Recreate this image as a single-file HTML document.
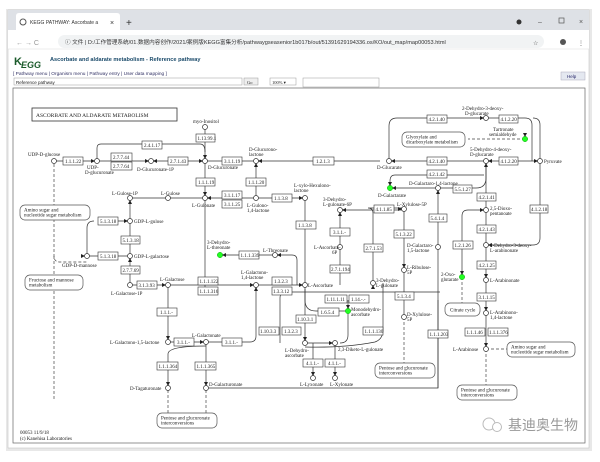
<!DOCTYPE html>
<html><head><meta charset="utf-8"><style>
body{margin:0;width:600px;height:457px;background:#fff;overflow:hidden;font-family:"Liberation Sans","Noto Sans CJK SC",sans-serif}
svg text{font-family:"Liberation Serif",serif;font-size:5px;fill:#222}
.b rect{fill:#fff;stroke:#333;stroke-width:.6}
.l{stroke:#333;stroke-width:.7;fill:none}
.d{stroke:#444;stroke-width:.7;fill:none;stroke-dasharray:3 2}
.c{fill:#fff;stroke:#333;stroke-width:.7}
.g{fill:#2f2;stroke:#1a1;stroke-width:.5}
.r{fill:#fff;stroke:#555;stroke-width:.7}
</style></head><body>
<svg width="600" height="457" viewBox="0 0 600 457" xmlns="http://www.w3.org/2000/svg">
<rect x="6" y="9" width="586" height="442" fill="#e8e8e8"/>
<rect x="8" y="10" width="581" height="438" fill="#fff" stroke="#bbb" stroke-width=".5"/>
<rect x="8" y="10" width="581" height="20" fill="#dee1e6"/>
<path d="M16 30 V16 q0-3 3-3 H117 q3 0 3 3 V30 Z" fill="#fff"/>
<circle cx="23" cy="22" r="3" fill="none" stroke="#555" stroke-width="1"/>
<text x="30" y="24" style="font-family:'Liberation Sans',sans-serif;font-size:5px;fill:#333">KEGG PATHWAY: Ascorbate a</text>
<text x="110" y="25" style="font-family:'Liberation Sans',sans-serif;font-size:7px;fill:#333">×</text>
<text x="126" y="26" style="font-family:'Liberation Sans',sans-serif;font-size:10px;fill:#333">+</text>
<circle cx="519" cy="22" r="2.5" fill="#333"/>
<text x="538" y="24" style="font-family:'Liberation Sans',sans-serif;font-size:7px;fill:#555">–</text>
<rect x="559" y="18" width="5" height="5" fill="none" stroke="#555" stroke-width=".7"/>
<text x="579" y="24" style="font-family:'Liberation Sans',sans-serif;font-size:7px;fill:#555">×</text>
<rect x="8" y="30" width="581" height="19" fill="#fff"/>
<text x="16" y="45" style="font-family:'Liberation Sans',sans-serif;font-size:7px;fill:#999">← → C</text>
<rect x="58" y="35" width="486" height="13" rx="6.5" fill="#f1f3f4"/>
<text x="65" y="44" style="font-family:'Liberation Sans','Noto Sans CJK SC',sans-serif;font-size:5.6px;fill:#333">ⓘ 文件 | D:/工作管理系统/01.数据内容创作/2021/案例版KEGG富集分析/pathwaygseasenior1b017b/out/51391629194336.os/KO/out_map/map00053.html</text>
<text x="533" y="45" style="font-size:6px;fill:#555">☆</text>
<circle cx="563" cy="42" r="3" fill="#555"/><text x="578" y="45" style="font-size:6px;fill:#555">⋮</text>
<line x1="8" y1="49" x2="589" y2="49" stroke="#ddd" stroke-width=".5"/>
<text x="14" y="65" style="font-family:'Liberation Sans',sans-serif;font-size:11px;font-weight:bold;fill:#1a5a2a">K</text>
<text x="21" y="68" style="font-family:'Liberation Sans',sans-serif;font-size:9px;font-weight:bold;fill:#1a5a2a;font-style:italic">EGG</text>
<text x="50" y="61" style="font-family:'Liberation Sans',sans-serif;font-size:5.6px;font-weight:bold;fill:#1a4a6a">Ascorbate and aldarate metabolism - Reference pathway</text>
<rect x="561" y="72" width="24" height="8" fill="#e4e8f0" stroke="#aab" stroke-width=".5"/>
<text x="567" y="78" style="font-family:'Liberation Sans',sans-serif;font-size:4.5px;fill:#226">Help</text>
<text x="13" y="75" style="font-family:'Liberation Sans',sans-serif;font-size:4.8px;fill:#336">[ Pathway menu | Organism menu | Pathway entry | User data mapping ]</text>
<rect x="14" y="78" width="228" height="7" fill="#fff" stroke="#999" stroke-width=".5"/>
<text x="16" y="84" style="font-family:'Liberation Sans',sans-serif;font-size:4.5px">Reference pathway</text>
<rect x="244" y="78" width="14" height="7" fill="#eee" stroke="#999" stroke-width=".5"/><text x="247" y="84" style="font-size:4.5px">Go</text>
<rect x="270" y="78" width="26" height="7" fill="#fff" stroke="#999" stroke-width=".5"/><text x="272" y="84" style="font-size:4.5px">100% ▾</text>
<rect x="303" y="78" width="76" height="9" fill="#fff" stroke="#999" stroke-width=".5"/>
<rect x="13" y="88" width="572" height="355" fill="#fff" stroke="#666" stroke-width=".7"/>

<rect x="32" y="108" width="145" height="13" fill="#fff" stroke="#333" stroke-width=".8"/>
<text x="36" y="117" style="font-size:5.5px">ASCORBATE AND ALDARATE METABOLISM</text>

<g class="l">
<path d="M54 161 H380"/><path d="M205 127 V290"/><path d="M256 161 V198"/>
<path d="M97 161 V148 q0-4 4-4 H200 q5 0 5 8"/>
<path d="M130 198 H305"/><path d="M130 198 V285"/><path d="M98 221 H130"/><path d="M87 256 H130"/><path d="M87 256 V228 q0-7 7-7"/>
<path d="M130 285 H168"/><path d="M168 285 H305"/><path d="M168 285 V342"/><path d="M168 342 H206 H250 q6 0 6-6 V285"/>
<path d="M206 342 V388"/><path d="M206 346 q-38 0-38 8 V388"/>
<path d="M206 388 H438 V300"/>
<path d="M305 198 V343"/><path d="M220 255 H275 H292 q5 0 5 5 V285"/>
<path d="M280 343 V298 q0-6 6-6 H440"/><path d="M305 343 H335"/><path d="M305 347 q40 1 70-5 q8-3 8-12 V283"/>
<path d="M305 289 V300 q0 11 11 11 H348"/><path d="M348 300 V311 V335 q0 8-8 8"/>
<path d="M340 210 V285"/><path d="M373 283 V213 q0-5-5-5 H404 M340 210 H404"/>
<path d="M404 209 V317"/><path d="M438 188 V388"/>
<path d="M313 343 V378 M335 343 V378"/>
<path d="M390 188 H438 H476 q10 0 10-10 V161"/><path d="M389 161 H540"/>
<path d="M389 161 V126 q0-8 8-8 H486 H525 q7 0 7 7 V161"/><path d="M540 161 V125 q0-7-7-7"/>
<path d="M395 175 q-5 0-5 6 V188"/><path d="M395 175 H484"/>
<path d="M486 161 V349"/><path d="M540 161 V238 q0 7-7 7 H486"/>
<path d="M486 210 H468 q-6 0-6 6 V277"/>
</g>
<g class="d">
<path d="M54 164 V256 q0 6 6 6 H87"/><path d="M54 256 V400"/><path d="M525 139 H468"/><path d="M462 277 V303"/>
<path d="M168 390 V413 M206 390 V413"/><path d="M404 317 V363"/><path d="M486 349 V385"/><path d="M486 349 H507"/>
</g>

<g class="c">
<circle cx="205" cy="127" r="2.5"/><circle cx="54" cy="161" r="2.5"/><circle cx="97" cy="161" r="2.5"/><circle cx="151" cy="161" r="2.5"/>
<circle cx="205" cy="161" r="2.5"/><circle cx="256" cy="161" r="2.5"/><circle cx="389" cy="161" r="2.5"/>
<circle cx="205" cy="198" r="2.5"/><circle cx="256" cy="198" r="2.5"/><circle cx="305" cy="198" r="2.5"/><circle cx="130" cy="198" r="2.5"/><circle cx="168" cy="198" r="2.5"/>
<circle cx="130" cy="221" r="2.5"/><circle cx="130" cy="256" r="2.5"/><circle cx="87" cy="256" r="2.5"/><circle cx="275" cy="255" r="2.5"/>
<circle cx="130" cy="285" r="2.5"/><circle cx="168" cy="285" r="2.5"/><circle cx="256" cy="285" r="2.5"/><circle cx="305" cy="285" r="2.5"/>
<circle cx="168" cy="342" r="2.5"/><circle cx="206" cy="342" r="2.5"/><circle cx="168" cy="388" r="2.5"/><circle cx="206" cy="388" r="2.5"/>
<circle cx="305" cy="343" r="2.5"/><circle cx="335" cy="343" r="2.5"/><circle cx="313" cy="378" r="2.5"/><circle cx="335" cy="378" r="2.5"/>
<circle cx="373" cy="283" r="2.5"/><circle cx="340" cy="247" r="2.5"/><circle cx="340" cy="210" r="2.5"/><circle cx="404" cy="209" r="2.5"/>
<circle cx="404" cy="270" r="2.5"/><circle cx="404" cy="317" r="2.5"/><circle cx="438" cy="247" r="2.5"/><circle cx="438" cy="188" r="2.5"/>
<circle cx="486" cy="118" r="2.5"/><circle cx="486" cy="161" r="2.5"/><circle cx="540" cy="161" r="2.5"/><circle cx="486" cy="210" r="2.5"/>
<circle cx="486" cy="245" r="2.5"/><circle cx="486" cy="280" r="2.5"/><circle cx="486" cy="313" r="2.5"/><circle cx="486" cy="349" r="2.5"/>
</g>
<g class="g"><circle cx="220" cy="255" r="2.7"/><circle cx="348" cy="311" r="2.7"/><circle cx="390" cy="188" r="2.7"/><circle cx="525" cy="139" r="2.7"/><circle cx="462" cy="277" r="2.7"/></g>

<g class="r">
<rect x="20" y="205" width="70" height="15" rx="5"/><rect x="25" y="275" width="58" height="15" rx="5"/>
<rect x="157" y="413" width="60" height="15" rx="5"/><rect x="375" y="363" width="60" height="15" rx="5"/>
<rect x="402" y="132" width="63" height="15" rx="5"/><rect x="445" y="303" width="35" height="13" rx="5"/>
<rect x="507" y="342" width="68" height="15" rx="5"/><rect x="457" y="385" width="60" height="15" rx="5"/>
</g>
<g style="font-size:4.3px">
<text x="24" y="211.5">Amino sugar and</text><text x="24" y="216.5">nucleotide sugar metabolism</text>
<text x="29" y="281.5">Fructose and mannose</text><text x="29" y="286.5">metabolism</text>
<text x="161" y="419.5">Pentose and glucuronate</text><text x="161" y="424.5">interconversions</text>
<text x="379" y="369.5">Pentose and glucuronate</text><text x="379" y="374.5">interconversions</text>
<text x="406" y="138.5">Glyoxylate and</text><text x="406" y="143.5">dicarboxylate metabolism</text>
<text x="450" y="311.5">Citrate cycle</text>
<text x="511" y="348.5">Amino sugar and</text><text x="511" y="353.5">nucleotide sugar metabolism</text>
<text x="461" y="391.5">Pentose and glucuronate</text><text x="461" y="396.5">interconversions</text>
</g>

<g class="b" style="font-size:4.5px">
<rect x="196" y="134" width="19" height="8"/><text x="197.5" y="140">1.13.99.1</text>
<rect x="63" y="157" width="20" height="8"/><text x="65" y="163">1.1.1.22</text>
<rect x="111" y="153" width="21" height="8"/><text x="113" y="159">2.7.7.44</text>
<rect x="111" y="162" width="21" height="8"/><text x="113" y="168">2.7.7.64</text>
<rect x="142" y="141" width="20" height="8"/><text x="144" y="147">2.4.1.17</text>
<rect x="168" y="157" width="20" height="8"/><text x="170" y="163">2.7.1.43</text>
<rect x="222" y="157" width="20" height="8"/><text x="224" y="163">3.1.1.19</text>
<rect x="313" y="157" width="21" height="8"/><text x="316" y="163">1.2.1.3</text>
<rect x="196" y="178" width="19" height="8"/><text x="198" y="184">1.1.1.19</text>
<rect x="246" y="178" width="20" height="8"/><text x="248" y="184">1.1.1.20</text>
<rect x="222" y="191" width="20" height="8"/><text x="224" y="197">3.1.1.17</text>
<rect x="222" y="200" width="20" height="8"/><text x="224" y="206">3.1.1.25</text>
<rect x="272" y="194" width="20" height="8"/><text x="274" y="200">1.1.3.8</text>
<rect x="296" y="221" width="20" height="8"/><text x="298" y="227">1.1.3.8</text>
<rect x="98" y="217" width="20" height="8"/><text x="100" y="223">5.1.3.18</text>
<rect x="121" y="236" width="19" height="8"/><text x="122.5" y="242">5.1.3.18</text>
<rect x="98" y="252" width="20" height="8"/><text x="100" y="258">5.1.3.18</text>
<rect x="121" y="266" width="19" height="8"/><text x="122.5" y="272">2.7.7.69</text>
<rect x="239" y="251" width="20" height="8"/><text x="240.5" y="257">1.1.1.339</text>
<rect x="137" y="281" width="20" height="8"/><text x="138.5" y="287">3.1.3.93</text>
<rect x="198" y="277" width="20" height="8"/><text x="199.5" y="283">1.1.1.122</text>
<rect x="198" y="287" width="20" height="8"/><text x="199.5" y="293">1.1.1.316</text>
<rect x="272" y="277" width="20" height="8"/><text x="274" y="283">1.3.2.3</text>
<rect x="272" y="287" width="20" height="8"/><text x="273" y="293">1.3.3.12</text>
<rect x="157" y="308" width="20" height="8"/><text x="160" y="314">1.1.1.-</text>
<rect x="174" y="338" width="20" height="8"/><text x="177" y="344">3.1.1.-</text>
<rect x="222" y="338" width="20" height="8"/><text x="225" y="344">3.1.1.-</text>
<rect x="157" y="362" width="21" height="8"/><text x="158.5" y="368">1.1.1.364</text>
<rect x="195" y="362" width="21" height="8"/><text x="196.5" y="368">1.1.1.365</text>
<rect x="259" y="327" width="20" height="8"/><text x="260" y="333">1.10.3.3</text>
<rect x="282" y="327" width="19" height="8"/><text x="284" y="333">1.3.2.3</text>
<rect x="296" y="315" width="20" height="8"/><text x="297" y="321">1.10.3.1</text>
<rect x="325" y="295" width="22" height="8"/><text x="326.5" y="301">1.11.1.11</text>
<rect x="349" y="295" width="20" height="8"/><text x="351" y="301">1.14.-.-</text>
<rect x="318" y="308" width="21" height="8"/><text x="320.5" y="314">1.6.5.4</text>
<rect x="363" y="327" width="20" height="8"/><text x="364.5" y="333">1.1.1.130</text>
<rect x="303" y="359" width="20" height="8"/><text x="306" y="365">4.1.1.-</text>
<rect x="325" y="359" width="20" height="8"/><text x="328" y="365">4.1.1.-</text>
<rect x="330" y="228" width="20" height="8"/><text x="333" y="234">3.1.1.-</text>
<rect x="330" y="265" width="20" height="8"/><text x="331" y="271">2.7.1.194</text>
<rect x="364" y="244" width="19" height="8"/><text x="365.5" y="250">2.7.1.53</text>
<rect x="374" y="205" width="20" height="8"/><text x="375.5" y="211">4.1.1.85</text>
<rect x="394" y="230" width="20" height="8"/><text x="395.5" y="236">5.1.3.22</text>
<rect x="429" y="214" width="18" height="8"/><text x="430.5" y="220">5.4.1.4</text>
<rect x="395" y="292" width="19" height="8"/><text x="397" y="298">5.1.3.4</text>
<rect x="428" y="330" width="20" height="8"/><text x="429.5" y="336">1.1.1.203</text>
<rect x="427" y="115" width="20" height="8"/><text x="428.5" y="121">4.2.1.40</text>
<rect x="427" y="157" width="20" height="8"/><text x="428.5" y="163">4.2.1.40</text>
<rect x="427" y="170" width="20" height="8"/><text x="428.5" y="176">4.2.1.42</text>
<rect x="453" y="185" width="19" height="8"/><text x="454.5" y="191">5.5.1.27</text>
<rect x="499" y="115" width="19" height="8"/><text x="500.5" y="121">4.1.2.20</text>
<rect x="499" y="157" width="19" height="8"/><text x="500.5" y="163">4.1.2.20</text>
<rect x="477" y="193" width="19" height="8"/><text x="478.5" y="199">4.2.1.41</text>
<rect x="477" y="225" width="19" height="8"/><text x="478.5" y="231">4.2.1.43</text>
<rect x="530" y="205" width="18" height="8"/><text x="531" y="211">4.1.2.18</text>
<rect x="453" y="241" width="20" height="8"/><text x="454.5" y="247">1.2.1.26</text>
<rect x="477" y="261" width="19" height="8"/><text x="478.5" y="267">4.2.1.25</text>
<rect x="477" y="293" width="19" height="8"/><text x="478.5" y="299">3.1.1.15</text>
<rect x="465" y="328" width="20" height="8"/><text x="466.5" y="334">1.1.1.46</text>
<rect x="488" y="328" width="20" height="8"/><text x="489" y="334">1.1.1.376</text>
</g>

<g style="font-size:4.3px">
<text x="193" y="123">myo-Inositol</text>
<text x="28" y="156">UDP-D-glucose</text>
<text x="87" y="169">UDP-</text><text x="85" y="174">D-glucuronate</text>
<text x="137" y="171">D-Glucuronate-1P</text>
<text x="208" y="169">D-Glucuronate</text>
<text x="249" y="151">D-Glucurono-</text><text x="249" y="156">lactone</text>
<text x="377" y="169">D-Glucarate</text>
<text x="112" y="195">L-Gulose-1P</text><text x="161" y="195">L-Gulose</text>
<text x="192" y="207">L-Gulonate</text>
<text x="247" y="207">L-Gulono-</text><text x="247" y="212">1,4-lactone</text>
<text x="294" y="187">L-xylo-Hexulono-</text><text x="294" y="192">lactone</text>
<text x="134" y="223">GDP-L-gulose</text><text x="134" y="258">GDP-L-galactose</text>
<text x="62" y="267">GDP-D-mannose</text>
<text x="207" y="244">3-Dehydro-</text><text x="207" y="249">L-threonate</text>
<text x="263" y="252">L-Threonate</text>
<text x="111" y="295">L-Galactose-1P</text><text x="160" y="281">L-Galactose</text>
<text x="241" y="274">L-Galactono-</text><text x="241" y="279">1,4-lactone</text>
<text x="308" y="287">L-Ascorbate</text>
<text x="110" y="344">L-Galactono-1,5-lactone</text>
<text x="192" y="337">L-Galactonate</text>
<text x="130" y="390">D-Tagaturonate</text><text x="209" y="386">D-Galacturonate</text>
<text x="285" y="352">L-Dehydro-</text><text x="285" y="357">ascorbate</text>
<text x="338" y="351">2,3-Diketo-L-gulonate</text>
<text x="300" y="386">L-Lyxonate</text><text x="330" y="386">L-Xylonate</text>
<text x="351" y="311">Monodehydro-</text><text x="351" y="316">ascorbate</text>
<text x="376" y="282">3-Dehydro-</text><text x="376" y="287">L-gulonate</text>
<text x="314" y="249">L-Ascorbate-</text><text x="332" y="254">6P</text>
<text x="323" y="201">3-Dehydro-</text><text x="323" y="206">L-gulonate-6P</text>
<text x="397" y="206">L-Xylulose-5P</text>
<text x="407" y="269">L-Ribulose-</text><text x="407" y="274">5P</text>
<text x="407" y="316">D-Xylulose-</text><text x="407" y="321">5P</text>
<text x="407" y="247">D-Galactaro-</text><text x="407" y="252">1,5-lactone</text>
<text x="409" y="185">D-Galactaro-1,4-lactone</text>
<text x="378" y="197">D-Galactarate</text>
<text x="462" y="110">2-Dehydro-3-deoxy-</text><text x="465" y="115">D-glucarate</text>
<text x="493" y="131">Tartronate</text><text x="489" y="136">semialdehyde</text>
<text x="470" y="151">5-Dehydro-4-deoxy-</text><text x="470" y="156">D-glucarate</text>
<text x="544" y="163">Pyruvate</text>
<text x="490" y="210">2,5-Dioxo-</text><text x="490" y="215">pentanoate</text>
<text x="490" y="247">2-Dehydro-3-deoxy-</text><text x="490" y="252">L-arabinonate</text>
<text x="441" y="276">2-Oxo-</text><text x="441" y="281">glutarate</text>
<text x="490" y="282">L-Arabinonate</text>
<text x="490" y="314">L-Arabinono-</text><text x="490" y="319">1,4-lactone</text>
<text x="453" y="351">L-Arabinose</text>
<text x="20" y="434">00053 11/9/18</text><text x="20" y="440">(c) Kanehisa Laboratories</text>
</g>
<g fill="#222">
<path d="M95 161 l-4-2 v4z"/><path d="M149 161 l-4-2 v4z"/><path d="M153 161 l4-2 v4z"/><path d="M203 161 l-4-2 v4z"/><path d="M258 161 l4-2 v4z"/>
<path d="M391 161 l4-2 v4z"/><path d="M205 159 l-2-4 h4z"/><path d="M205 196 l-2-4 h4z"/><path d="M207 198 l4-2 v4z"/><path d="M256 163 l-2 4 h4z"/>
<path d="M303 198 l-4-2 v4z"/><path d="M128 221 l-4-2 v4z"/><path d="M130 200 l-2 4 h4z"/><path d="M85 256 l-4 2 v-4z"/><path d="M130 258 l-2 4 h4z"/>
<path d="M222 255 l4-2 v4z"/><path d="M277 255 l4-2 v4z"/><path d="M166 285 l-4-2 v4z"/><path d="M254 285 l-4-2 v4z"/><path d="M303 285 l-4-2 v4z"/>
<path d="M168 340 l-2-4 h4z"/><path d="M204 342 l-4-2 v4z"/><path d="M256 287 l-2 4 h4z"/><path d="M168 386 l-2-4 h4z"/><path d="M206 386 l-2-4 h4z"/>
<path d="M305 341 l-2-4 h4z"/><path d="M333 343 l-4-2 v4z"/><path d="M313 376 l-2-4 h4z"/><path d="M335 376 l-2-4 h4z"/><path d="M348 309 l-2-4 h4z"/>
<path d="M340 212 l-2 4 h4z"/><path d="M342 210 l4-2 v4z"/><path d="M402 209 l-4-2 v4z"/><path d="M373 285 l-2 4 h4z"/><path d="M404 268 l-2-4 h4z"/>
<path d="M438 190 l-2 4 h4z"/><path d="M392 188 l4-2 v4z"/><path d="M390 186 l-2-4 h4z"/><path d="M484 118 l-4-2 v4z"/><path d="M488 161 l4-2 v4z"/>
<path d="M538 161 l-4-2 v4z"/><path d="M525 137 l-2-4 h4z"/><path d="M486 163 l-2 4 h4z"/><path d="M484 210 l-4-2 v4z"/><path d="M488 245 l4-2 v4z"/>
<path d="M462 275 l-2-4 h4z"/><path d="M486 278 l-2-4 h4z"/><path d="M486 311 l-2-4 h4z"/><path d="M486 347 l-2-4 h4z"/>
</g>
<circle cx="489" cy="424" r="6" fill="none" stroke="#bbb" stroke-width="1"/><circle cx="497" cy="427" r="4.5" fill="#fff" stroke="#bbb" stroke-width="1"/>
<text x="508" y="430" style="font-family:'Liberation Sans','Noto Sans CJK SC',sans-serif;font-size:14px;fill:#999">基迪奥生物</text>
</svg>
</body></html>
